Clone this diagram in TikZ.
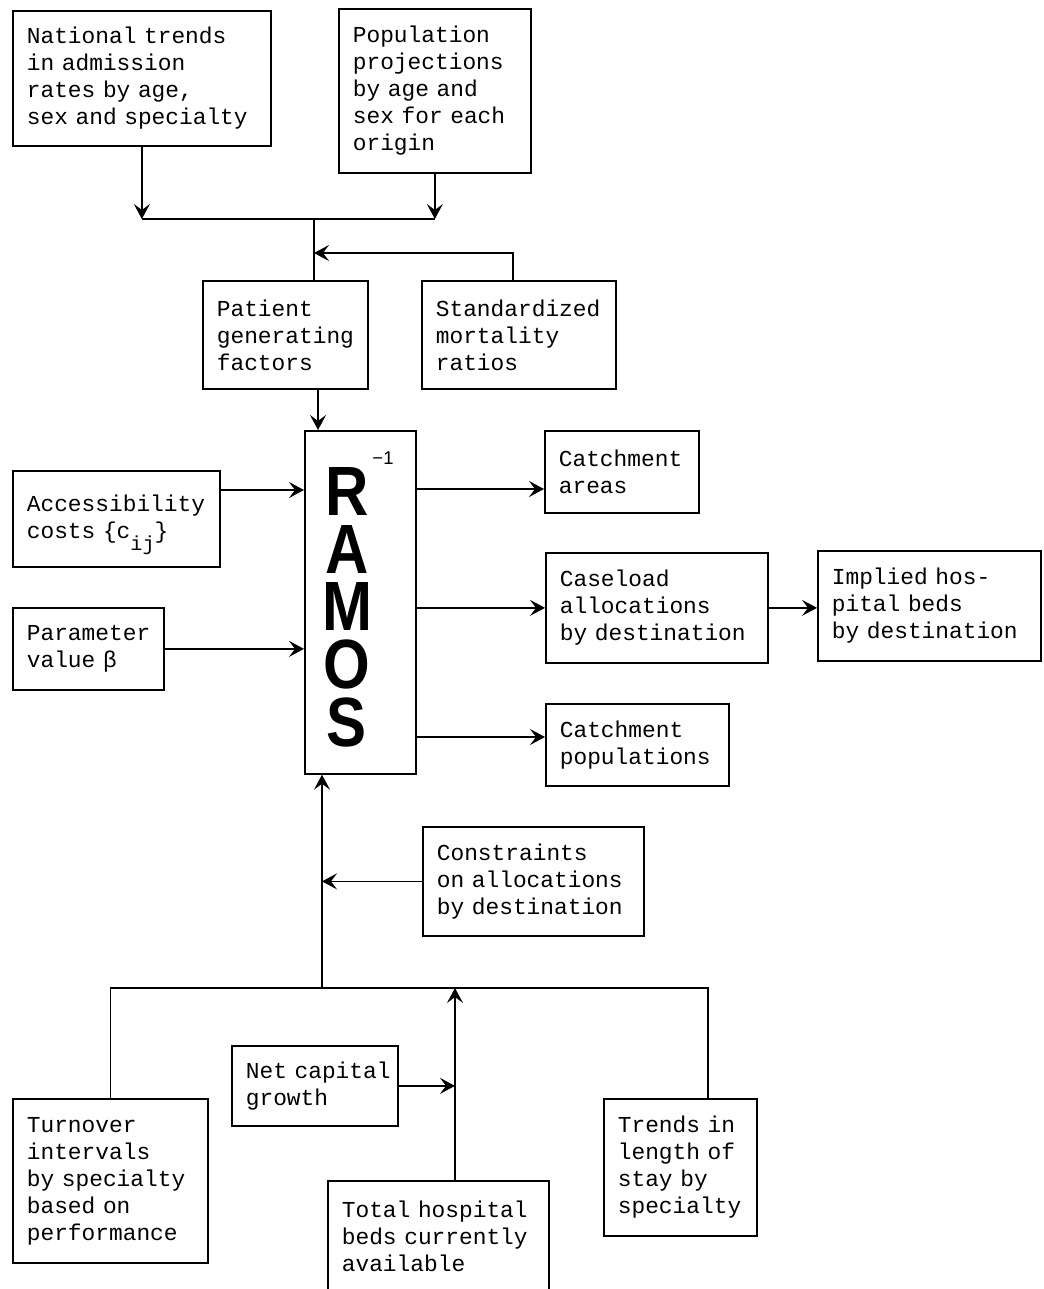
\documentclass[tikz,border=0pt]{standalone}
\usepackage{fontspec}
\setmonofont{Liberation Mono}
\newfontfamily\ramosfont{Liberation Sans}
\usepackage{tikz}
\usetikzlibrary{arrows.meta,positioning}
\hyphenpenalty=10000
\exhyphenpenalty=10000
\tikzstyle{box}=[draw, line width=1pt, anchor=north west, inner xsep=0.28cm, inner ysep=0pt, font=\ttfamily\fontsize{13}{15.36}\selectfont]
\tikzstyle{wire}=[line width=0.9pt]
\tikzstyle{flow}=[line width=0.9pt, -{Stealth[length=3mm,width=3.2mm,inset=1.2mm]}]

\begin{document}
\begin{tikzpicture}[x=0.02cm, y=-0.02cm]

	\useasboundingbox (0,0) rectangle (1044,1289);

	\node[box, text width=4.60cm, minimum height=2.70cm] (national) at (12,10) {National~trends\\in~admission\\rates~by~age,\\sex~and~specialty};
	\node[box, text width=3.28cm, minimum height=3.28cm] (population) at (338,8) {Population\\projections\\by~age~and\\sex~for~each\\origin};

	\node[box, text width=2.74cm, minimum height=2.16cm] (patient) at (202,280) {Patient\\generating\\factors};
	\node[box, text width=3.32cm, minimum height=2.16cm] (smr) at (421,280) {Standardized\\mortality\\ratios};

	\node[box, minimum width=2.22cm, minimum height=6.86cm, inner sep=0pt] (ramos) at (304,430) {};
	\node[anchor=north, inner sep=0pt, align=center, font=\ramosfont\bfseries\fontsize{39.7}{32.88}\selectfont] (ramostext) at (347,467) {\scalebox{0.86}[1]{R}\\\scalebox{0.86}[1]{A}\\\scalebox{0.86}[1]{M}\\\scalebox{0.86}[1]{O}\\\scalebox{0.86}[1]{S}};
	\node[inner sep=0pt, font=\ramosfont\fontsize{10.5}{12}\selectfont] (ramosexp) at (383,458) {−1};

	\node[box, text width=3.58cm, minimum height=1.92cm] (access) at (12,470) {Accessibility\\costs~\{c\raisebox{-7pt}[0pt][0pt]{\fontsize{11.5}{12}\selectfont ij}\}};
	\node[box, text width=2.46cm, minimum height=1.64cm] (param) at (12,607) {Parameter\\value~β};

	\node[box, text width=2.52cm, minimum height=1.64cm] (careas) at (544,430) {Catchment\\areas};
	\node[box, text width=3.88cm, minimum height=2.20cm] (caseload) at (545,552) {Caseload\\allocations\\by~destination};
	\node[box, text width=3.90cm, minimum height=2.20cm] (implied) at (817,550) {Implied~hos-\\pital~beds\\by~destination};
	\node[box, text width=3.10cm, minimum height=1.64cm] (cpop) at (545,703) {Catchment\\populations};

	\node[box, text width=3.86cm, minimum height=2.18cm] (constr) at (422,826) {Constraints\\on~allocations\\by~destination};

	\node[box, text width=2.76cm, minimum height=1.60cm] (netcap) at (231,1045) {Net~capital\\growth};
	\node[box, text width=3.34cm, minimum height=3.28cm] (turnover) at (12,1098) {Turnover\\intervals\\by~specialty\\based~on\\performance};
	\node[box, text width=3.86cm, minimum height=2.22cm] (total) at (327,1180) {Total~hospital\\beds~currently\\available};
	\node[box, text width=2.50cm, minimum height=2.74cm] (trends) at (603,1098) {Trends~in\\length~of\\stay~by\\specialty};

	\coordinate (topbus) at (314,219);
	\coordinate (smrjoin) at (314,253);
	\coordinate (smrup) at (513,0);
	\coordinate (ramosin) at (318,0);
	\coordinate (accin) at (0,490);
	\coordinate (outA) at (0,489);
	\coordinate (outC) at (0,737);
	\coordinate (bbus) at (322,988);
	\coordinate (totup) at (455,0);
	\coordinate (trendup) at (708,0);

	\draw[flow] (national.south) -- (national.south |- topbus);
	\draw[flow] (population.south) -- (population.south |- topbus);
	\draw[wire] (national.south |- topbus) -- (population.south |- topbus);
	\draw[wire] (topbus) -- (topbus |- patient.north);
	\draw[flow] (smrup |- smr.north) |- (smrjoin);
	\draw[flow] (patient.south -| ramosin) -- (ramos.north -| ramosin);

	\draw[flow] (access.east |- accin) -- (ramos.west |- accin);
	\draw[flow] (param.east) -- (ramos.west |- param.east);

	\draw[flow] (ramos.east |- outA) -- (careas.west |- outA);
	\draw[flow] (ramos.east |- caseload.west) -- (caseload.west);
	\draw[flow] (caseload.east) -- (implied.west |- caseload.east);
	\draw[flow] (ramos.east |- outC) -- (cpop.west |- outC);

	\draw[flow] (bbus) -- (bbus |- ramos.south);
	\draw[flow] (constr.west) -- (constr.west -| bbus);
	\draw[wire] (turnover.north) -- (turnover.north |- bbus) -- (trendup |- bbus) -- (trendup |- trends.north);
	\draw[flow] (totup |- total.north) -- (totup |- bbus);
	\draw[flow] (netcap.east) -- (netcap.east -| totup);

\end{tikzpicture}
\end{document}
